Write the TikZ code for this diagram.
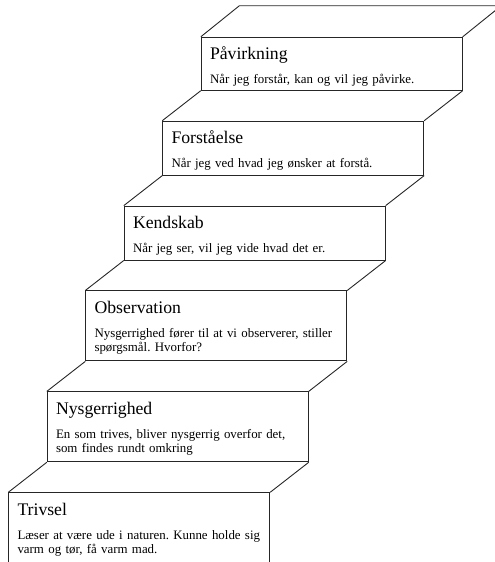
\documentclass[tikz,border=0pt]{standalone}
\usepackage{fontspec}
\setmainfont{Liberation Serif}
\newfontfamily\stepfont{Liberation Serif}
\usetikzlibrary{positioning}
\frenchspacing
\tikzset{
    stepbox/.style={
        rectangle, draw=black!85, line width=0.9pt, minimum width=261pt,
        inner sep=0pt
    },
    steptitle/.style={
        anchor=base west, inner sep=0pt, font=\stepfont\fontsize{17.7}{20}\selectfont
    },
    stepbody/.style={
        anchor=base west, inner sep=0pt, text width=255pt, align=left,
        font=\stepfont\fontsize{12.9}{14.5}\selectfont
    },
    tread/.style={
        draw=black!85, line width=0.9pt
    }
}

\begin{document}
\begin{tikzpicture}[x=1pt, y=1pt]
    \useasboundingbox (0,0) rectangle (495,562);
    \clip (0,0) rectangle (495,562);

    % ── Steps ──
    \node[stepbox, minimum height=80pt, anchor=north west] (trivsel) at (8.3,69.7) {};
    \node[stepbox, minimum height=70pt, above right=30pt and 38.5pt of trivsel.north west]      (nysgerrighed) {};
    \node[stepbox, minimum height=70pt, above right=30pt and 38.5pt of nysgerrighed.north west] (observation)  {};
    \node[stepbox, minimum height=54pt, above right=30pt and 38.5pt of observation.north west]  (kendskab)     {};
    \node[stepbox, minimum height=54pt, above right=30pt and 38.5pt of kendskab.north west]     (forstaaelse)  {};
    \node[stepbox, minimum height=53pt, above right=30pt and 38.5pt of forstaaelse.north west]  (paavirkning)  {};

    % ── Treads ──
    \draw[tread] (trivsel.north west)      -- (nysgerrighed.south west);
    \draw[tread] (trivsel.north east)      -- (nysgerrighed.south east);
    \draw[tread] (nysgerrighed.north west) -- (observation.south west);
    \draw[tread] (nysgerrighed.north east) -- (observation.south east);
    \draw[tread] (observation.north west)  -- (kendskab.south west);
    \draw[tread] (observation.north east)  -- (kendskab.south east);
    \draw[tread] (kendskab.north west)     -- (forstaaelse.south west);
    \draw[tread] (kendskab.north east)     -- (forstaaelse.south east);
    \draw[tread] (forstaaelse.north west)  -- (paavirkning.south west);
    \draw[tread] (forstaaelse.north east)  -- (paavirkning.south east);
    \coordinate (backleft)  at ([shift={(38.5pt,31pt)}]paavirkning.north west);
    \coordinate (backright) at ([shift={(38.5pt,31pt)}]paavirkning.north east);
    \draw[tread] (paavirkning.north west) -- (backleft) -- (backright) -- (paavirkning.north east);

    % ── Texts ──
    \node[steptitle] (trivselttl) at ([shift={(9pt,-23pt)}]trivsel.north west) {Trivsel};
    \node[stepbody]  (trivseltxt) at ([shift={(9pt,-47pt)}]trivsel.north west)
        {Læser at være ude i naturen. Kunne holde sig\\varm og tør, få varm mad.};
    \node[steptitle] (nysgerrighedttl) at ([shift={(9pt,-23pt)}]nysgerrighed.north west) {Nysgerrighed};
    \node[stepbody]  (nysgerrighedtxt) at ([shift={(9pt,-47pt)}]nysgerrighed.north west)
        {En som trives, bliver nysgerrig overfor det,\\som findes rundt omkring};
    \node[steptitle] (observationttl) at ([shift={(9pt,-23pt)}]observation.north west) {Observation};
    \node[stepbody]  (observationtxt) at ([shift={(9pt,-47pt)}]observation.north west)
        {Nysgerrighed fører til at vi observerer, stiller\\spørgsmål. Hvorfor?};
    \node[steptitle] (kendskabttl) at ([shift={(9pt,-23pt)}]kendskab.north west) {Kendskab};
    \node[stepbody]  (kendskabtxt) at ([shift={(9pt,-47pt)}]kendskab.north west)
        {Når jeg ser, vil jeg vide hvad det er.};
    \node[steptitle] (forstaaelsettl) at ([shift={(9pt,-23pt)}]forstaaelse.north west) {Forståelse};
    \node[stepbody]  (forstaaelsetxt) at ([shift={(9pt,-47pt)}]forstaaelse.north west)
        {Når jeg ved hvad jeg ønsker at forstå.};
    \node[steptitle] (paavirkningttl) at ([shift={(9pt,-23pt)}]paavirkning.north west) {Påvirkning};
    \node[stepbody]  (paavirkningtxt) at ([shift={(9pt,-47pt)}]paavirkning.north west)
        {Når jeg forstår, kan og vil jeg påvirke.};

\end{tikzpicture}
\end{document}
